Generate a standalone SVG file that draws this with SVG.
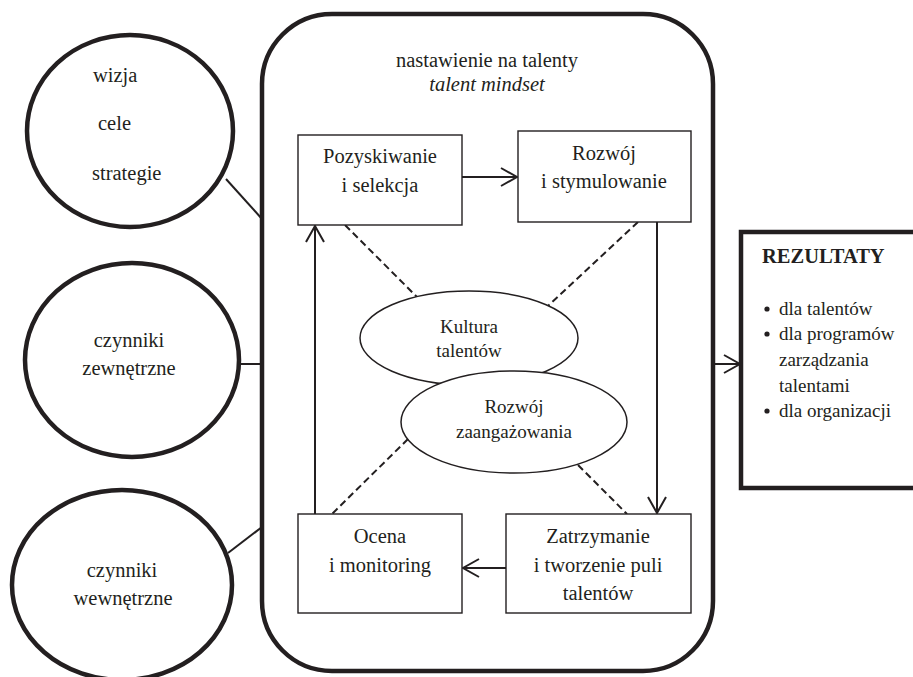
<svg xmlns="http://www.w3.org/2000/svg" width="913" height="677" viewBox="0 0 913 677" font-family="'Liberation Serif', 'DejaVu Serif', serif">
<style>
text { font-family: 'Liberation Serif', 'DejaVu Serif', serif; fill: #231f20; font-size: 20.5px; }
.c { text-anchor: middle; }
.thick { fill: #fff; stroke: #231f20; stroke-width: 4.5; }
.box { fill: #fff; stroke: #231f20; stroke-width: 1.4; }
.inner { fill: #fff; stroke: #231f20; stroke-width: 1.5; }
.line { fill: none; stroke: #231f20; stroke-width: 2; }
.dash { fill: none; stroke: #231f20; stroke-width: 2; stroke-dasharray: 7 4; }
.small { font-size: 19px; }
</style>
<defs>
<marker id="arr" viewBox="0 0 20 20" refX="18" refY="10" markerWidth="20" markerHeight="20" markerUnits="userSpaceOnUse" orient="auto">
<path d="M2,1 L18,10 L2,19" fill="none" stroke="#231f20" stroke-width="2"/>
</marker>
</defs>
<rect width="913" height="677" fill="#fff"/>

<g id="connectors">
<line class="line" x1="226" y1="179" x2="262" y2="219"/>
<line class="line" x1="240" y1="364" x2="262" y2="364"/>
<line class="line" x1="228" y1="553" x2="262" y2="527"/>
</g>

<g id="mindset">
<rect class="thick" x="262" y="14" width="451" height="657" rx="70" ry="70"/>
<text class="c" x="487" y="67">nastawienie na talenty</text>
<text class="c" x="487" y="91" font-style="italic">talent mindset</text>
</g>

<g id="wizja">
<ellipse class="thick" cx="130" cy="131" rx="103" ry="96"/>
<text x="93" y="82">wizja</text>
<text x="98" y="130">cele</text>
<text x="92" y="180">strategie</text>
</g>

<g id="zewnetrzne">
<ellipse class="thick" cx="132" cy="360" rx="107" ry="97"/>
<text class="c" x="129" y="347">czynniki</text>
<text class="c" x="129" y="375">zewnętrzne</text>
</g>

<g id="wewnetrzne">
<ellipse class="thick" cx="122" cy="585" rx="110" ry="95"/>
<text class="c" x="122" y="577">czynniki</text>
<text class="c" x="123" y="605">wewnętrzne</text>
</g>

<g id="inner-connectors">
<line class="line" x1="462" y1="177" x2="517" y2="177" marker-end="url(#arr)"/>
<line class="line" x1="657" y1="222" x2="657" y2="513" marker-end="url(#arr)"/>
<line class="line" x1="506" y1="568" x2="463" y2="568" marker-end="url(#arr)"/>
<line class="line" x1="315" y1="514" x2="315" y2="226" marker-end="url(#arr)"/>
<line class="dash" x1="345" y1="225" x2="417" y2="297"/>
<line class="dash" x1="638" y1="222" x2="548" y2="306"/>
<line class="dash" x1="408" y1="439" x2="332" y2="514"/>
<line class="dash" x1="578" y1="465" x2="627" y2="514"/>
<line class="line" x1="713" y1="364" x2="740" y2="364" marker-end="url(#arr)"/>
</g>

<g id="pozyskiwanie">
<rect class="box" x="298" y="135" width="164" height="90"/>
<text class="c" x="380" y="163">Pozyskiwanie</text>
<text class="c" x="380" y="192">i selekcja</text>
</g>

<g id="rozwoj">
<rect class="box" x="518" y="131" width="173" height="91"/>
<text class="c" x="604" y="160">Rozwój</text>
<text class="c" x="604" y="188">i stymulowanie</text>
</g>

<g id="zatrzymanie">
<rect class="box" x="506" y="514" width="185" height="99"/>
<text class="c" x="598" y="543">Zatrzymanie</text>
<text class="c" x="598" y="572">i tworzenie puli</text>
<text class="c" x="598" y="600">talentów</text>
</g>

<g id="ocena">
<rect class="box" x="298" y="514" width="164" height="99"/>
<text class="c" x="380" y="543">Ocena</text>
<text class="c" x="380" y="572">i monitoring</text>
</g>

<g id="kultura">
<ellipse class="inner" cx="469" cy="338" rx="109" ry="47"/>
<text class="c small" x="469" y="333">Kultura</text>
<text class="c small" x="469" y="357">talentów</text>
</g>

<g id="zaangazowanie">
<ellipse class="inner" cx="514" cy="422" rx="113" ry="51"/>
<text class="c small" x="514" y="413">Rozwój</text>
<text class="c small" x="514" y="438">zaangażowania</text>
</g>

<g id="rezultaty">
<rect class="thick" x="741" y="232" width="200" height="256"/>
<text x="762" y="263" font-weight="bold" font-size="21">REZULTATY</text>
<circle cx="767" cy="309" r="2.6" fill="#231f20"/>
<circle cx="767" cy="334" r="2.6" fill="#231f20"/>
<circle cx="767" cy="411" r="2.6" fill="#231f20"/>
<text class="small" x="779" y="315">dla talentów</text>
<text class="small" x="779" y="340">dla programów</text>
<text class="small" x="779" y="366">zarządzania</text>
<text class="small" x="779" y="392">talentami</text>
<text class="small" x="779" y="417">dla organizacji</text>
</g>
</svg>
